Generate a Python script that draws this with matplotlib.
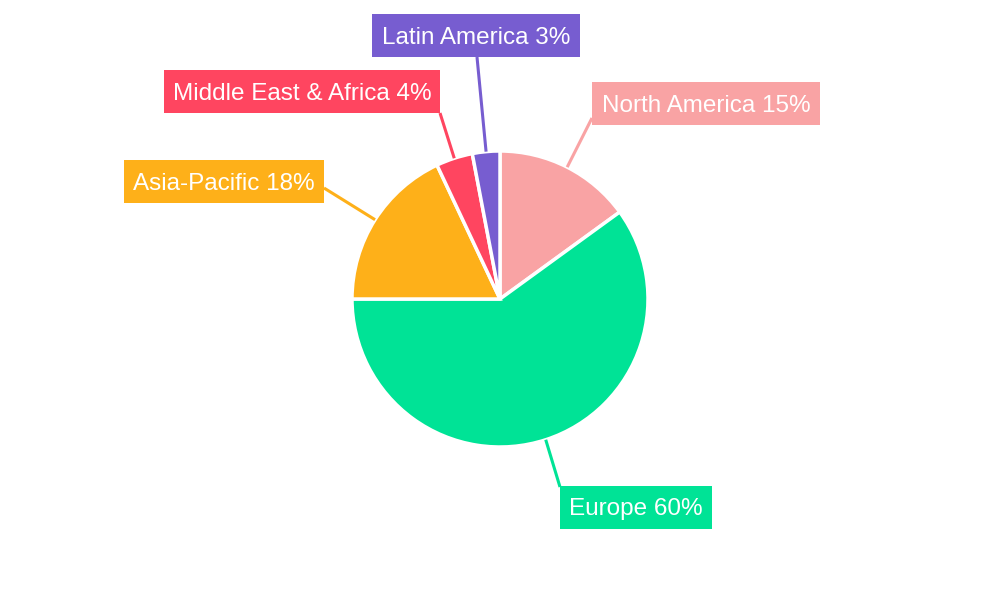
import numpy as np
import matplotlib.pyplot as plt
from matplotlib.patches import Rectangle
from matplotlib import font_manager

plt.rcParams['font.family'] = ['Liberation Sans', 'DejaVu Sans']
print(font_manager.findfont('Liberation Sans'))

regions = ["North America", "Europe", "Asia-Pacific", "Middle East & Africa", "Latin America"]
shares = [15, 60, 18, 4, 3]
colors = ["#F9A3A4", "#00E396", "#FEB019", "#FF4560", "#775DD0"]

# label boxes in pixel coords (x, y_top, w, h) and leader end points (pixel)
boxes = [(592, 82, 228, 43), (560, 486, 152, 43), (124, 160, 200, 43),
         (164, 70, 276, 43), (372, 14, 208, 43)]
leader_ends = [(592, 118), (560, 487), (324, 188), (440, 113), (477, 57)]

H = 600
cx, cy, R = 500, H - 299, 148

fig = plt.figure(figsize=(10, 6), dpi=100)
ax = fig.add_axes([0, 0, 1, 1])
ax.set_xlim(0, 1000)
ax.set_ylim(0, H)
ax.set_aspect('equal')
ax.axis('off')

wedges, _ = ax.pie(shares, colors=colors, startangle=90, counterclock=False,
                   center=(cx, cy), radius=R,
                   wedgeprops=dict(edgecolor='white', linewidth=2.5))
ax.set_xlim(0, 1000)
ax.set_ylim(0, H)

for w, name, val, col, box, end in zip(wedges, regions, shares, colors, boxes, leader_ends):
    mid = np.deg2rad((w.theta1 + w.theta2) / 2)
    sx, sy = cx + R * np.cos(mid), cy + R * np.sin(mid)
    ax.plot([sx, end[0]], [sy, H - end[1]], color=col, lw=2.2,
            solid_capstyle='butt', zorder=1)
    bx, by, bw, bh = box
    ax.add_patch(Rectangle((bx, H - by - bh), bw, bh, facecolor=col,
                           edgecolor='none', zorder=3))
    ax.text(bx + bw / 2, H - by - bh / 2 - 2, f"{name} {val}%", color='white',
            fontsize=17.5, ha='center', va='center', zorder=4)

fig.savefig("out.png", dpi=100)
